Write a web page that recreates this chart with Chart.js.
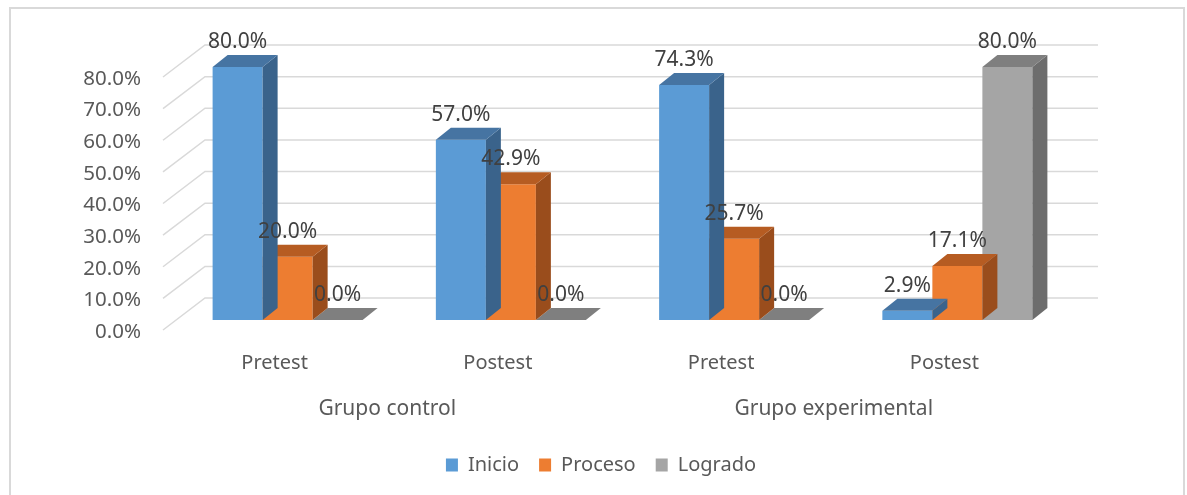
<!DOCTYPE html>
<html>
<head>
<meta charset="utf-8">
<script src="https://cdn.jsdelivr.net/npm/chart.js@4.4.1/dist/chart.umd.min.js"></script>
<style>
  html, body { margin: 0; padding: 0; background: #fff; overflow: hidden; }
  #wrap { position: relative; width: 1187px; height: 495px; }
  #frame { position: absolute; left: 9px; top: 7px; width: 1176px; height: 600px; border: 2px solid #d9d9d9; box-sizing: border-box; }
  #chart { position: absolute; left: 0; top: 0; }
</style>
</head>
<body>
<div id="wrap">
  <div id="frame"></div>
  <canvas id="chart" width="1187" height="495"></canvas>
</div>
<script>
const categories = ['Pretest', 'Postest', 'Pretest', 'Postest'];
const groups = ['Grupo control', 'Grupo experimental'];
const inicio = [80.0, 57.0, 74.3, 2.9];
const proceso = [20.0, 42.9, 25.7, 17.1];
const logrado = [0.0, 0.0, 0.0, 80.0];
const yTicks = [0, 10, 20, 30, 40, 50, 60, 70, 80];

// front / top / side shades per series
const shades = [
  { front: '#5b9bd5', top: '#4674a2', side: '#3a638b' },
  { front: '#ed7d31', top: '#b65c22', side: '#9a4d1c' },
  { front: '#a5a5a5', top: '#7f7f7f', side: '#6d6d6d' },
];

const DX = 15, DY = 12;          // bar depth
const BX = 29, BY = 22;          // bar front -> back wall
const FX = 13, FY = 10;          // bar front -> front floor edge
const font = "'Noto Sans', 'Open Sans', sans-serif";

const wallPlugin = {
  id: 'wall',
  beforeDatasetsDraw(chart) {
    const { ctx, chartArea: a, scales: { y } } = chart;
    ctx.save();
    ctx.strokeStyle = '#d9d9d9';
    ctx.lineWidth = 1.5;
    yTicks.forEach(v => {
      const yp = y.getPixelForValue(v);
      ctx.beginPath();
      ctx.moveTo(a.left - FX, yp + FY);
      ctx.lineTo(a.left + BX, yp - BY);
      ctx.lineTo(a.right + BX, yp - BY);
      ctx.stroke();
    });
    ctx.restore();
  }
};

const boxPlugin = {
  id: 'box3d',
  afterDatasetDraw(chart, args) {
    const { ctx } = chart;
    const c = shades[args.index];
    ctx.save();
    args.meta.data.forEach(el => {
      const x1 = el.x - el.width / 2, x2 = el.x + el.width / 2;
      const top = el.y, base = el.base;
      if (base - top > 0.5) {
        ctx.fillStyle = c.side;
        ctx.beginPath();
        ctx.moveTo(x2, top);
        ctx.lineTo(x2 + DX, top - DY);
        ctx.lineTo(x2 + DX, base - DY);
        ctx.lineTo(x2, base);
        ctx.closePath();
        ctx.fill();
      }
      ctx.fillStyle = base - top > 0.5 ? c.top : '#7f7f7f';
      ctx.beginPath();
      ctx.moveTo(x1, top);
      ctx.lineTo(x2, top);
      ctx.lineTo(x2 + DX, top - DY);
      ctx.lineTo(x1 + DX, top - DY);
      ctx.closePath();
      ctx.fill();
    });
    ctx.restore();
  },
  afterDatasetsDraw(chart) {
    const { ctx } = chart;
    ctx.save();
    ctx.font = '21px ' + font;
    ctx.fillStyle = '#404040';
    ctx.textAlign = 'center';
    ctx.textBaseline = 'middle';
    chart.data.datasets.forEach((ds, i) => {
      chart.getDatasetMeta(i).data.forEach((el, j) => {
        ctx.fillText(ds.data[j].toFixed(1) + '%', el.x, el.y - 25);
      });
    });
    ctx.restore();
  }
};

new Chart(document.getElementById('chart'), {
  type: 'bar',
  data: {
    labels: categories,
    datasets: [
      { label: 'Inicio', data: inicio, backgroundColor: shades[0].front },
      { label: 'Proceso', data: proceso, backgroundColor: shades[1].front },
      { label: 'Logrado', data: logrado, backgroundColor: shades[2].front },
    ],
  },
  options: {
    responsive: false,
    animation: false,
    devicePixelRatio: 1,
    layout: { padding: { left: 15, top: 67, right: 0, bottom: 10 } },
    datasets: { bar: { barPercentage: 1, categoryPercentage: 0.672, clip: false } },
    plugins: {
      tooltip: { enabled: false },
      legend: {
        position: 'bottom',
        labels: { boxWidth: 12, boxHeight: 13, padding: 20, color: '#595959', font: { family: font, size: 20 } },
      },
    },
    scales: {
      x: {
        grid: { display: false }, border: { display: false },
        ticks: { color: '#595959', font: { family: font, size: 20 }, labelOffset: -13, padding: 23 },
        afterFit: s => { s.height = 55; },
      },
      x2: {
        type: 'category', labels: groups, position: 'bottom', offset: true, weight: 1,
        grid: { display: false }, border: { display: false },
        ticks: { color: '#595959', font: { family: font, size: 21 }, labelOffset: -12, padding: 13 },
        afterFit: s => { s.height = 60; },
      },
      y: {
        min: 0, max: 80,
        grid: { display: false }, border: { display: false },
        ticks: {
          stepSize: 10, color: '#595959', font: { family: font, size: 20.5 },
          labelOffset: 12, padding: 27,
          callback: v => v.toFixed(1) + '%',
        },
        afterFit: s => { s.width = 161; },
      },
      yR: {
        position: 'right', display: true,
        grid: { display: false }, border: { display: false },
        ticks: { display: false },
        afterFit: s => { s.width = 118; },
      },
    },
  },
  plugins: [wallPlugin, boxPlugin],
});
</script>
</body>
</html>
